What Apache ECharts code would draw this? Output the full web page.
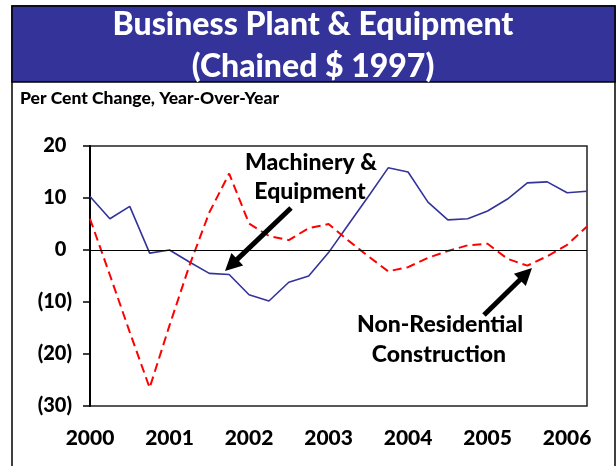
<!DOCTYPE html>
<html>
<head>
<meta charset="utf-8">
<script src="https://cdn.jsdelivr.net/npm/echarts@6/dist/echarts.min.js"></script>
<style>
html, body { margin: 0; padding: 0; background: #fff; }
#main { width: 616px; height: 466px; }
</style>
</head>
<body>
<div id="main"></div>
<script>
// quarterly, Q1 2000 .. Q2 2006
var quarters = ['2000Q1', '2000Q2', '2000Q3', '2000Q4', '2001Q1', '2001Q2', '2001Q3', '2001Q4',
  '2002Q1', '2002Q2', '2002Q3', '2002Q4', '2003Q1', '2003Q2', '2003Q3', '2003Q4',
  '2004Q1', '2004Q2', '2004Q3', '2004Q4', '2005Q1', '2005Q2', '2005Q3', '2005Q4',
  '2006Q1', '2006Q2'];
var machinery = [10.3, 6.0, 8.4, -0.6, 0.0, -2.3, -4.5, -4.7, -8.6, -9.8, -6.2, -5.0, -0.5,
  4.9, 10.3, 15.8, 15.0, 9.2, 5.8, 6.0, 7.5, 9.8, 12.9, 13.1, 11.0, 11.3];
var construction = [6.0, -4.8, -15.8, -26.5, -14.5, -3.0, 7.2, 14.7, 5.1, 2.7, 1.9, 4.2, 5.0,
  1.8, -1.2, -4.1, -3.3, -1.5, -0.2, 0.9, 1.2, -1.7, -3.0, -1.2, 1.0, 4.5];
var yMin = -30, yMax = 20, yStep = 10;

var FONT = 'Lato';

function arrow(x1, y1, x2, y2) {
  var dx = x2 - x1, dy = y2 - y1;
  var len = Math.sqrt(dx * dx + dy * dy);
  var ux = dx / len, uy = dy / len;
  var h = 17, w = 8.5;
  var bx = x2 - ux * h, by = y2 - uy * h;
  return [
    { type: 'line', z: 20, shape: { x1: x1, y1: y1, x2: bx + ux * 2, y2: by + uy * 2 },
      style: { stroke: '#000', lineWidth: 5 } },
    { type: 'polygon', z: 20, shape: { points: [[x2, y2], [bx - uy * w, by + ux * w], [bx + uy * w, by - ux * w]] },
      style: { fill: '#000' } }
  ];
}

function note(text, x, y) {
  return { type: 'text', z: 20, x: x, y: y,
    style: { text: text, fill: '#000', font: '900 23px ' + FONT, textAlign: 'center', textVerticalAlign: 'middle' } };
}

var myChart = echarts.init(document.getElementById('main'));
var option = {
  animation: false,
  title: [{
    text: 'Business Plant & Equipment\n(Chained $ 1997)',
    left: 313,
    textAlign: 'center',
    top: 4,
    padding: 0,
    z: 10,
    textStyle: { color: '#fff', fontFamily: FONT, fontWeight: 900, fontSize: 32, lineHeight: 42 }
  }, {
    text: 'Per Cent Change, Year-Over-Year',
    left: 20,
    top: 88,
    padding: 0,
    textStyle: { color: '#000', fontFamily: FONT, fontWeight: 900, fontSize: 17.5, lineHeight: 20 }
  }],
  grid: {
    left: 90, right: 29, top: 146, bottom: 60,
    show: true, borderColor: '#222', borderWidth: 1.5
  },
  xAxis: {
    type: 'category',
    data: quarters,
    boundaryGap: false,
    axisLine: { show: false },
    axisTick: { show: false },
    splitLine: { show: false },
    axisLabel: {
      interval: 3,
      margin: 22,
      color: '#000',
      fontFamily: FONT,
      fontWeight: 900,
      fontSize: 21,
      formatter: function (v) { return v.slice(0, 4); }
    }
  },
  yAxis: {
    type: 'value',
    min: yMin, max: yMax, interval: yStep,
    axisLine: { show: true, onZero: false, lineStyle: { color: '#000', width: 2 } },
    axisTick: { show: true, length: 7, lineStyle: { color: '#000', width: 1.5 } },
    splitLine: { show: false },
    axisLabel: {
      margin: 18,
      color: '#000',
      fontFamily: FONT,
      fontWeight: 900,
      fontSize: 20,
      formatter: function (v) {
        return v < 0 ? '(' + (-v) + ')' : v + '{h|)}';
      },
      rich: { h: { color: 'transparent', fontFamily: FONT, fontWeight: 900, fontSize: 20 } }
    }
  },
  series: [{
    name: 'Machinery & Equipment',
    type: 'line',
    data: machinery,
    symbol: 'none',
    z: 3,
    lineStyle: { color: '#333399', width: 1.6 },
    markLine: {
      silent: true,
      symbol: 'none',
      label: { show: false },
      lineStyle: { color: '#000', width: 1, type: 'solid' },
      data: [{ yAxis: 0 }]
    }
  }, {
    name: 'Non-Residential Construction',
    type: 'line',
    data: construction,
    symbol: 'none',
    z: 4,
    lineStyle: { color: '#ff0000', width: 2, type: [9, 5] }
  }],
  graphic: [
    { type: 'rect', z: -10, shape: { x: 12, y: 6, width: 603, height: 480 },
      style: { fill: '#fff', stroke: '#000', lineWidth: 1.5 } },
    { type: 'rect', z: -5, shape: { x: 12, y: 6, width: 603, height: 76 },
      style: { fill: '#333399', stroke: '#000', lineWidth: 1.5 } },
    note('Machinery &', 311, 163),
    note('Equipment', 310, 192),
    note('Non-Residential', 440, 325),
    note('Construction', 439, 355)
  ].concat(arrow(291, 208, 225, 271), arrow(484, 315, 532, 268))
};
myChart.setOption(option);
</script>
</body>
</html>
